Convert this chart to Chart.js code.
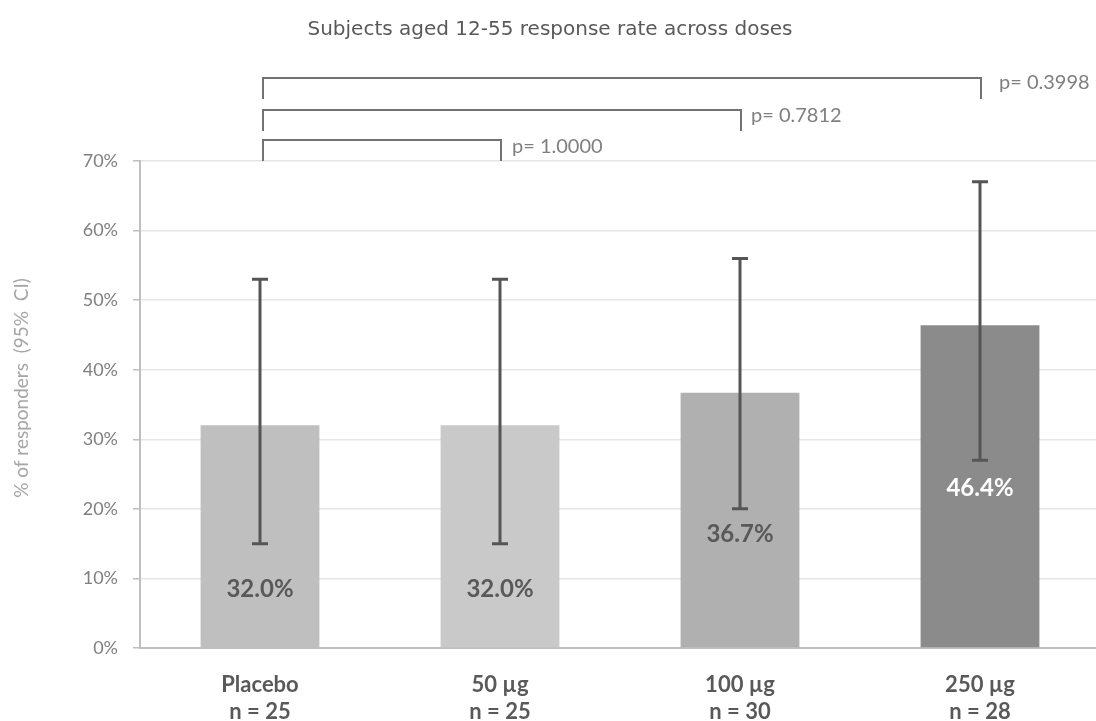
<!DOCTYPE html>
<html>
<head>
<meta charset="utf-8">
<script src="https://cdn.jsdelivr.net/npm/chart.js@4/dist/chart.umd.min.js"></script>
<style>
  html, body { margin: 0; padding: 0; background: #ffffff; overflow: hidden; }
  #wrap { width: 1100px; height: 721px; }
</style>
</head>
<body>
<div id="wrap"><canvas id="chart" width="1100" height="721"></canvas></div>
<script>
// Dose groups and their sizes
const doses = ['Placebo', '50 µg', '100 µg', '250 µg'];
const sampleSizes = [25, 25, 30, 28];

// Response rate (%) with 95% confidence interval bounds
const responseRate = [32.0, 32.0, 36.7, 46.4];
const ciLower = [15, 15, 20, 27];
const ciUpper = [53, 53, 56, 67];

// p-values of each dose against placebo (50 µg, 100 µg, 250 µg)
const pValues = ['1.0000', '0.7812', '0.3998'];

const barColors = ['#bfbfbf', '#c9c9c9', '#b0b0b0', '#8b8b8b'];
const labelColors = ['#595959', '#595959', '#595959', '#ffffff'];

// Vertical confidence-interval whiskers with caps
const errorBars = {
  id: 'errorBars',
  afterDatasetsDraw(chart) {
    const { ctx, scales: { x, y } } = chart;
    ctx.save();
    ctx.strokeStyle = '#555555';
    ctx.lineWidth = 3;
    ciLower.forEach((lo, i) => {
      const px = x.getPixelForValue(i);
      const yLo = y.getPixelForValue(lo);
      const yHi = y.getPixelForValue(ciUpper[i]);
      ctx.beginPath();
      ctx.moveTo(px, yLo); ctx.lineTo(px, yHi);
      ctx.moveTo(px - 8, yLo); ctx.lineTo(px + 8, yLo);
      ctx.moveTo(px - 8, yHi); ctx.lineTo(px + 8, yHi);
      ctx.stroke();
    });
    ctx.restore();
  }
};

// Percentage labels inside the bars
const valueLabels = {
  id: 'valueLabels',
  afterDatasetsDraw(chart, args, opts) {
    const { ctx, scales: { x, y } } = chart;
    ctx.save();
    ctx.font = 'bold 24px Lato';
    ctx.textAlign = 'center';
    ctx.textBaseline = 'middle';
    responseRate.forEach((v, i) => {
      ctx.fillStyle = labelColors[i];
      ctx.fillText(v.toFixed(1) + '%', x.getPixelForValue(i), y.getPixelForValue(opts.anchor[i]));
    });
    ctx.restore();
  }
};

// Comparison brackets from placebo to each dose, with p-values
const brackets = {
  id: 'brackets',
  afterDraw(chart, args, opts) {
    const { ctx, chartArea, scales: { x } } = chart;
    ctx.save();
    ctx.strokeStyle = '#727272';
    ctx.lineWidth = 2;
    ctx.fillStyle = '#7f7f7f';
    ctx.font = '20px Lato';
    ctx.textAlign = 'left';
    ctx.textBaseline = 'middle';
    pValues.forEach((p, k) => {
      const x0 = x.getPixelForValue(0) + 3;
      const x1 = x.getPixelForValue(k + 1) + 1;
      const yTop = chartArea.top - opts.top[k];
      const yBot = yTop + opts.drop;
      ctx.beginPath();
      ctx.moveTo(x0, yBot); ctx.lineTo(x0, yTop);
      ctx.lineTo(x1, yTop); ctx.lineTo(x1, yBot);
      ctx.stroke();
      ctx.fillText('p= ' + p, x1 + opts.gap[k], yTop + opts.textDy[k]);
    });
    ctx.restore();
  }
};

// Rotated y-axis caption
const yCaption = {
  id: 'yCaption',
  afterDraw(chart, args, opts) {
    const { ctx } = chart;
    ctx.save();
    ctx.translate(opts.x, opts.y);
    ctx.rotate(-Math.PI / 2);
    ctx.font = '19px Lato';
    ctx.fillStyle = '#a6a6a6';
    ctx.textAlign = 'center';
    ctx.textBaseline = 'middle';
    ctx.fillText(opts.text, 0, 0);
    ctx.restore();
  }
};

new Chart(document.getElementById('chart'), {
  type: 'bar',
  data: {
    labels: doses.map((d, i) => [d, 'n = ' + sampleSizes[i]]),
    datasets: [{
      data: responseRate,
      backgroundColor: barColors,
      borderWidth: 0,
      barPercentage: 0.495,
      categoryPercentage: 1
    }]
  },
  options: {
    responsive: false,
    animation: false,
    devicePixelRatio: 1,
    layout: { padding: 0 },
    plugins: {
      legend: { display: false },
      tooltip: { enabled: false },
      title: {
        display: true,
        text: 'Subjects aged 12-55 response rate across doses',
        color: '#595959',
        font: { family: 'DejaVu Sans', size: 20, weight: 'normal', lineHeight: 1.2 },
        padding: { top: 18, bottom: 119 }
      },
      valueLabels: { anchor: [8.4, 8.4, 16.3, 22.9] },
      brackets: { top: [21, 51, 83], drop: 21, gap: [11, 10, 18], textDy: [7, 6, 5] },
      yCaption: { text: '% of responders  (95%  CI)', x: 22, y: 388 }
    },
    scales: {
      x: {
        grid: { display: false, drawTicks: false },
        border: { color: '#bfbfbf', width: 2 },
        ticks: {
          color: '#595959',
          font: { family: 'Lato', size: 22, weight: 'bold', lineHeight: 27 / 22 },
          padding: 23
        },
        afterFit(scale) { scale.height = 73; }
      },
      y: {
        min: 0,
        max: 70,
        ticks: {
          stepSize: 10,
          callback: v => v + '%',
          color: '#7f7f7f',
          font: { family: 'Lato', size: 18 },
          padding: 15
        },
        grid: { color: '#e6e6e6', lineWidth: 1.5, tickColor: '#bfbfbf', tickLength: 7 },
        border: { color: '#bfbfbf', width: 2 },
        afterFit(scale) { scale.width = 140; }
      }
    }
  },
  plugins: [errorBars, valueLabels, brackets, yCaption]
});
</script>
</body>
</html>
